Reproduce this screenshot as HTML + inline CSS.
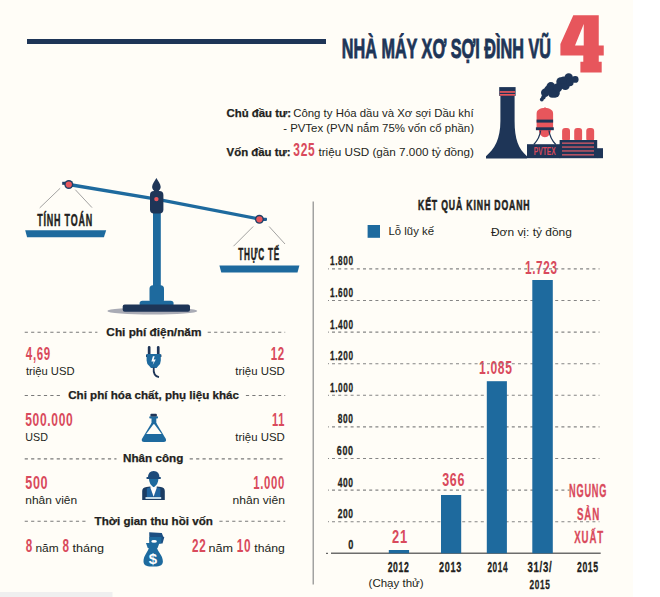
<!DOCTYPE html>
<html><head><meta charset="utf-8"><style>
html,body{margin:0;padding:0;background:#fffdf7;}
body{width:660px;height:597px;overflow:hidden;}
svg{display:block;}
svg text{font-family:"Liberation Sans",sans-serif;}
</style></head><body>
<svg width="660" height="597" viewBox="0 0 660 597">
<g id="gfx">
<rect x="633" y="0" width="27" height="597" fill="#ffffff"/>
<rect x="27" y="39" width="299" height="5" fill="#1e3557"/>
<path fill="#e7565c" fill-rule="evenodd" d="M573.3,15.2 L598.75,15.2 L598.75,45.4 L603.75,45.4 L603.75,55.4 L598.75,55.4 L598.75,61.8 L601.7,61.8 L601.7,72.6 L580.4,72.6 L580.4,61.8 L583.3,61.8 L583.3,55.4 L560.4,55.4 L560.4,44 Z M583.75,24 L583.75,45.4 L575,45.4 Z"/>
<circle cx="541.8" cy="99.5" r="1.9" fill="#1e3557"/>
<circle cx="543.4" cy="97.2" r="2.2" fill="#1e3557"/>
<circle cx="545.2" cy="92.7" r="4.2" fill="#1e3557"/>
<circle cx="550.9" cy="86.6" r="4.5" fill="#1e3557"/>
<circle cx="555.1" cy="93" r="4.7" fill="#1e3557"/>
<circle cx="560.8" cy="81.7" r="4.5" fill="#1e3557"/>
<circle cx="565.3" cy="85.5" r="4.5" fill="#1e3557"/>
<circle cx="568.7" cy="77.5" r="4.2" fill="#1e3557"/>
<circle cx="575.2" cy="79.4" r="3.4" fill="#1e3557"/>
<circle cx="557.7" cy="87.7" r="4.5" fill="#1e3557"/>
<circle cx="563.8" cy="80.2" r="3.8" fill="#1e3557"/>
<circle cx="569.8" cy="82.4" r="3.8" fill="#1e3557"/>
<circle cx="548.6" cy="90" r="4.5" fill="#1e3557"/>
<circle cx="552.4" cy="93.8" r="4" fill="#1e3557"/>
<path fill="#1e3557" d="M500.4,95 H514.6 V121 C514.6,139 518.5,149 527,156.2 V158.4 H486 V156.2 C494.5,149 500.4,139 500.4,121 Z"/>
<rect x="499.2" y="87.1" width="16.4" height="8.8" fill="#1e3557"/>
<rect x="499.7" y="91.1" width="15.4" height="1.7" fill="#e7565c"/>
<rect x="499.7" y="94.0" width="15.4" height="1.7" fill="#e7565c"/>
<rect x="562.1" y="127.9" width="7.9" height="13.5" rx="3" fill="#e7565c"/>
<rect x="574.2" y="127.9" width="7.9" height="13.5" rx="3" fill="#e7565c"/>
<rect x="586.25" y="127.9" width="7.9" height="13.5" rx="3" fill="#e7565c"/>
<path fill="#e7565c" d="M536.6,128 V113.5 C536.6,110 540,108.1 544.85,108.1 C549.7,108.1 553.1,110 553.1,113.5 V128 Z"/>
<rect x="544.2" y="107.4" width="1.6" height="2" fill="#e7565c"/>
<path fill="#e7565c" d="M538.8,129.5 A6.1,7.8 0 0 0 551,129.5 Z"/>
<rect x="536.6" y="119.6" width="16.5" height="3" fill="#1e3557"/>
<rect x="535.9" y="127.3" width="17.9" height="2.9" fill="#1e3557"/>
<path fill="none" stroke="#1e3557" stroke-width="1.3" d="M540.6,130.5 C540,136 537.5,140.5 533.8,144.5 M549,130.5 C549.6,136 552,140.5 555.8,144.5"/>
<rect x="527" y="144.2" width="33.2" height="14" fill="#1e3557"/>
<rect x="559.6" y="140" width="37.6" height="18.2" fill="#1e3557"/>
<rect x="597" y="148.2" width="6" height="10" fill="#1e3557"/>
<rect x="562" y="142.5" width="32" height="1.3" fill="#d85a66"/>
<rect x="562" y="146.4" width="32" height="1.3" fill="#d85a66"/>
<rect x="562" y="150.3" width="32" height="1.3" fill="#d85a66"/>
<rect x="562" y="154.2" width="32" height="1.3" fill="#d85a66"/>
<polyline fill="none" points="68.8,184.5 156.4,199.1 259.4,219" stroke="#1e6a9e" stroke-width="3.3"/>
<rect x="62.2" y="181.8" width="3" height="3" fill="#1d3f66"/>
<rect x="262.5" y="217.7" width="4.5" height="3.2" rx="0.8" fill="#1e5c92"/>
<circle cx="68.8" cy="184.5" r="4.5" fill="#1d3f66"/><circle cx="68.8" cy="184.5" r="3.1" fill="#e7565c"/>
<circle cx="259.4" cy="219.3" r="4.5" fill="#1d3f66"/><circle cx="259.4" cy="219.3" r="3.1" fill="#e7565c"/>
<path stroke="#8a8a8a" stroke-width="0.8" fill="none" d="M60.2,188.2 L39.7,207.9 M75.3,189.7 L92,207.6 M253.2,226.5 L233.5,246.2 M269.1,226.5 L285,244"/>
<polygon fill="#1e6a9e" points="25.2,230.2 106.2,230.2 103.9,237.3 27.1,237.3"/>
<polygon fill="#1e6a9e" points="219.4,265.6 299.4,265.6 297.5,272.4 221.3,272.4"/>
<rect x="153" y="212" width="7.8" height="76" fill="#1e6a9e"/>
<path fill="#1e3557" d="M156.4,177.9 C158,181 160.7,183.5 160.7,187 C160.7,189 159.2,190.2 158.3,191.5 H154.5 C153.6,190.2 152.1,189 152.1,187 C152.1,183.5 154.8,181 156.4,177.9 Z"/>
<rect x="150" y="191" width="13.4" height="22.6" rx="4" fill="#1e3557"/>
<circle cx="156.4" cy="199.1" r="2.2" fill="#e7565c"/>
<ellipse cx="152.3" cy="311" rx="45" ry="3.6" fill="#a9abb5"/>
<rect x="149.5" y="285.3" width="14.5" height="18" rx="3.5" fill="#1e6a9e"/>
<rect x="139.6" y="300.8" width="34" height="6" rx="2.8" fill="#1e6a9e"/>
<rect x="122.7" y="304.5" width="67.3" height="7.3" rx="2" fill="#1e3557"/>
<line x1="24.7" y1="332.3" x2="97.4" y2="332.3" stroke="#7a7a7a" stroke-width="1.1" stroke-dasharray="3.2 3.2"/>
<line x1="207.7" y1="332.3" x2="285.2" y2="332.3" stroke="#7a7a7a" stroke-width="1.1" stroke-dasharray="3.2 3.2"/>
<line x1="24.7" y1="395.5" x2="60.3" y2="395.5" stroke="#7a7a7a" stroke-width="1.1" stroke-dasharray="3.2 3.2"/>
<line x1="245.9" y1="395.5" x2="285.2" y2="395.5" stroke="#7a7a7a" stroke-width="1.1" stroke-dasharray="3.2 3.2"/>
<line x1="24.7" y1="458.9" x2="116.5" y2="458.9" stroke="#7a7a7a" stroke-width="1.1" stroke-dasharray="3.2 3.2"/>
<line x1="189.7" y1="458.9" x2="285.2" y2="458.9" stroke="#7a7a7a" stroke-width="1.1" stroke-dasharray="3.2 3.2"/>
<line x1="24.7" y1="521.2" x2="85.8" y2="521.2" stroke="#7a7a7a" stroke-width="1.1" stroke-dasharray="3.2 3.2"/>
<line x1="219.4" y1="521.2" x2="285.2" y2="521.2" stroke="#7a7a7a" stroke-width="1.1" stroke-dasharray="3.2 3.2"/>
<rect x="147.8" y="346.1" width="2.7" height="9" rx="1.3" fill="#1e3557"/>
<rect x="156.9" y="346.1" width="2.7" height="9" rx="1.3" fill="#1e3557"/>
<rect x="146" y="354.6" width="15.4" height="2.4" fill="#1e3557"/>
<path fill="#1e6a9e" d="M146.6,353.9 H160.8 V360.5 Q160.8,363.8 158.2,366 L156.6,368.1 H151 L149.3,366 Q146.6,363.8 146.6,360.5 Z"/>
<path fill="none" stroke="#1e3557" stroke-width="1.8" d="M153.7,367.5 C153.2,373 154.8,376.4 159,377.2"/>
<path fill="#fff" d="M152.9,356.3 L151.4,361.6 L153.7,361.6 L152.7,365 L155.8,359.6 L153.6,359.6 L154.7,356.3 Z"/>
<path fill="#1e6a9e" d="M151.5,423 L141.9,439 Q141.1,441.9 144.2,441.9 H163.6 Q166.7,441.9 165.9,439 L156.3,423 Z"/>
<rect x="151.5" y="417" width="4.8" height="7" fill="#1e6a9e"/>
<rect x="149.3" y="416.3" width="8.7" height="2.3" rx="0.8" fill="#1e6a9e"/>
<rect x="150.4" y="413.7" width="6.5" height="2.8" rx="1" fill="#1e3557"/>
<polygon fill="#fffdf7" points="153.4,424.2 154.4,424.2 161.7,434 146.2,434"/>
<path fill="#1c4a7a" d="M147.9,478 Q147.9,471 153.7,471 Q159.5,471 159.5,478 Z"/>
<rect x="146.3" y="477" width="14.7" height="2.1" rx="1" fill="#1c4a7a"/>
<path fill="#1e6a9e" d="M149,479 H158.4 Q158.4,484 153.7,487.4 Q149,484 149,479 Z"/>
<path fill="#1b3c63" d="M142.2,500 V491 Q142.2,487.6 146.5,487 L150.2,486.6 L153.6,490 L157,486.6 L160.9,487 Q164.8,487.6 164.8,491 V500 Z"/>
<polygon fill="#1f64a0" points="146.8,488.6 150.2,487.3 153.6,496.7 146.8,497.2"/>
<polygon fill="#1f64a0" points="160.4,488.6 157,487.3 153.6,496.7 160.4,497.2"/>
<polygon fill="#fff" points="150.2,487.2 157,487.2 153.6,496.7"/>
<rect x="145.5" y="497.1" width="15.7" height="1.8" fill="#d8ebf5"/>
<polygon fill="#1d4f82" points="149.2,532.2 161.8,532.9 163.2,536.5 164.3,537.2 162.5,543.5 149.5,543.5"/>
<polygon fill="#1e6a9e" points="149.4,537 161.5,537 161.1,543.5 149.5,543.5"/>
<ellipse cx="154.1" cy="541.4" rx="2.8" ry="1.4" fill="#fff"/>
<polygon fill="#1e6a9e" points="146,543.1 159.4,543.1 157.6,548 147.7,548"/>
<path fill="#1e6a9e" d="M148.8,547.5 H157 C157,551 162.9,555 162.9,561.5 C162.9,566.4 158,566.5 153,566.5 C148.3,566.5 143.5,566.4 143.5,561.5 C143.5,555 148.8,551 148.8,547.5 Z"/>
<text x="152.9" y="564.2" font-family="Liberation Sans" font-weight="700" font-size="15" fill="#fff" text-anchor="middle">$</text>
<rect x="312.6" y="201.5" width="1.2" height="383" fill="#8c8c8c"/>
<rect x="367.6" y="225" width="12.4" height="12.8" fill="#1e6a9e"/>
<rect x="326" y="552.8" width="2" height="1.1" fill="#555"/>
<rect x="331" y="552.6" width="269.7" height="1.2" fill="#4a4a4a"/>
<rect x="0" y="592" width="112.5" height="5" fill="#efefef"/>
</g>
<g id="txt">
<text id="title" x="341.78" y="58.30" font-size="27.60" font-weight="700" fill="#1e3557" stroke="#1e3557" stroke-width="0.9" textLength="209.22" lengthAdjust="spacingAndGlyphs">NHÀ MÁY XƠ SỢI ĐÌNH VŨ</text>
<text id="i1a" x="226.56" y="116.59" font-size="11.07" font-weight="700" fill="#231f20" stroke="#231f20" stroke-width="0.25" textLength="64.48" lengthAdjust="spacingAndGlyphs">Chủ đầu tư:</text>
<text id="i1b" x="293.20" y="116.70" font-size="11.40" font-weight="400" fill="#231f20" textLength="180.40" lengthAdjust="spacingAndGlyphs">Công ty Hóa dầu và Xơ sợi Dầu khí</text>
<text id="i2" x="283.20" y="131.50" font-size="11.40" font-weight="400" fill="#231f20" textLength="190.80" lengthAdjust="spacingAndGlyphs">- PVTex (PVN nắm 75% vốn cổ phần)</text>
<text id="i3a" x="226.57" y="155.69" font-size="11.07" font-weight="700" fill="#231f20" stroke="#231f20" stroke-width="0.25" textLength="64.06" lengthAdjust="spacingAndGlyphs">Vốn đầu tư:</text>
<text id="i3b" x="293.35" y="156.00" font-size="17.88" font-weight="700" fill="#d94a5c" letter-spacing="1.0" textLength="21.99" lengthAdjust="spacingAndGlyphs">325</text>
<text id="i3c" x="318.40" y="155.80" font-size="11.40" font-weight="400" fill="#231f20" textLength="155.60" lengthAdjust="spacingAndGlyphs">triệu USD (gần 7.000 tỷ đồng)</text>
<text id="tt" x="37.17" y="225.78" font-size="16.35" font-weight="700" fill="#231f20" letter-spacing="1.5" stroke="#231f20" stroke-width="0.5" textLength="55.83" lengthAdjust="spacingAndGlyphs">TÍNH TOÁN</text>
<text id="tte" x="238.32" y="260.47" font-size="16.21" font-weight="700" fill="#231f20" letter-spacing="1.5" stroke="#231f20" stroke-width="0.5" textLength="41.68" lengthAdjust="spacingAndGlyphs">THỰC TẾ</text>
<text id="h1" x="106.37" y="335.59" font-size="11.07" font-weight="700" fill="#231f20" stroke="#231f20" stroke-width="0.25" textLength="95.06" lengthAdjust="spacingAndGlyphs">Chi phí điện/năm</text>
<text id="v1l" x="25.87" y="359.70" font-size="18.46" font-weight="700" fill="#d94a5c" letter-spacing="1.0" textLength="24.87" lengthAdjust="spacingAndGlyphs">4,69</text>
<text id="u1l" x="25.89" y="374.70" font-size="11.50" font-weight="400" fill="#231f20" textLength="48.75" lengthAdjust="spacingAndGlyphs">triệu USD</text>
<text id="v1r" x="270.83" y="359.70" font-size="18.46" font-weight="700" fill="#d94a5c" letter-spacing="1.0" textLength="14.09" lengthAdjust="spacingAndGlyphs">12</text>
<text id="u1r" x="235.36" y="374.70" font-size="11.50" font-weight="400" fill="#231f20" textLength="49.48" lengthAdjust="spacingAndGlyphs">triệu USD</text>
<text id="h2" x="68.20" y="398.99" font-size="11.07" font-weight="700" fill="#231f20" stroke="#231f20" stroke-width="0.25" textLength="170.84" lengthAdjust="spacingAndGlyphs">Chi phí hóa chất, phụ liệu khác</text>
<text id="v2l" x="25.24" y="425.60" font-size="18.31" font-weight="700" fill="#d94a5c" letter-spacing="1.0" textLength="48.24" lengthAdjust="spacingAndGlyphs">500.000</text>
<text id="u2l" x="25.28" y="441.10" font-size="11.50" font-weight="400" fill="#231f20" textLength="22.61" lengthAdjust="spacingAndGlyphs">USD</text>
<text id="v2r" x="272.00" y="425.60" font-size="18.31" font-weight="700" fill="#d94a5c" letter-spacing="1.0" textLength="12.88" lengthAdjust="spacingAndGlyphs">11</text>
<text id="u2r" x="235.36" y="441.10" font-size="11.50" font-weight="400" fill="#231f20" textLength="49.48" lengthAdjust="spacingAndGlyphs">triệu USD</text>
<text id="h3" x="122.99" y="462.19" font-size="11.07" font-weight="700" fill="#231f20" stroke="#231f20" stroke-width="0.25" textLength="60.29" lengthAdjust="spacingAndGlyphs">Nhân công</text>
<text id="v3l" x="25.23" y="488.80" font-size="18.31" font-weight="700" fill="#d94a5c" letter-spacing="1.0" textLength="23.07" lengthAdjust="spacingAndGlyphs">500</text>
<text id="u3l" x="25.30" y="504.10" font-size="11.50" font-weight="400" fill="#231f20" textLength="51.86" lengthAdjust="spacingAndGlyphs">nhân viên</text>
<text id="v3r" x="253.27" y="488.80" font-size="18.31" font-weight="700" fill="#d94a5c" letter-spacing="1.0" textLength="31.56" lengthAdjust="spacingAndGlyphs">1.000</text>
<text id="u3r" x="232.56" y="504.10" font-size="11.50" font-weight="400" fill="#231f20" textLength="52.33" lengthAdjust="spacingAndGlyphs">nhân viên</text>
<text id="h4" x="94.59" y="525.19" font-size="11.07" font-weight="700" fill="#231f20" stroke="#231f20" stroke-width="0.25" textLength="118.21" lengthAdjust="spacingAndGlyphs">Thời gian thu hồi vốn</text>
<text id="v4a" x="25.82" y="551.50" font-size="18.46" font-weight="700" fill="#d94a5c" letter-spacing="1.0" textLength="7.11" lengthAdjust="spacingAndGlyphs">8</text>
<text id="u4a" x="35.42" y="551.50" font-size="11.50" font-weight="400" fill="#231f20" textLength="23.18" lengthAdjust="spacingAndGlyphs">năm</text>
<text id="v4b" x="62.51" y="551.50" font-size="18.46" font-weight="700" fill="#d94a5c" letter-spacing="1.0" textLength="7.15" lengthAdjust="spacingAndGlyphs">8</text>
<text id="u4b" x="72.46" y="551.50" font-size="11.50" font-weight="400" fill="#231f20" textLength="31.64" lengthAdjust="spacingAndGlyphs">tháng</text>
<text id="v4c" x="192.10" y="551.50" font-size="18.46" font-weight="700" fill="#d94a5c" letter-spacing="1.0" textLength="14.26" lengthAdjust="spacingAndGlyphs">22</text>
<text id="u4c" x="208.46" y="551.50" font-size="11.50" font-weight="400" fill="#231f20" textLength="24.46" lengthAdjust="spacingAndGlyphs">năm</text>
<text id="v4d" x="236.87" y="551.50" font-size="18.46" font-weight="700" fill="#d94a5c" letter-spacing="1.0" textLength="14.45" lengthAdjust="spacingAndGlyphs">10</text>
<text id="u4d" x="254.34" y="551.50" font-size="11.50" font-weight="400" fill="#231f20" textLength="30.51" lengthAdjust="spacingAndGlyphs">tháng</text>
<text id="ct" x="418.00" y="209.73" font-size="15.35" font-weight="700" fill="#231f20" letter-spacing="1.5" stroke="#231f20" stroke-width="0.6" textLength="112.43" lengthAdjust="spacingAndGlyphs">KẾT QUẢ KINH DOANH</text>
<text id="lg1" x="388.57" y="234.50" font-size="11.40" font-weight="400" fill="#231f20" textLength="45.43" lengthAdjust="spacingAndGlyphs">Lỗ lũy kế</text>
<text id="lg2" x="491.00" y="235.60" font-size="11.40" font-weight="400" fill="#231f20" textLength="80.80" lengthAdjust="spacingAndGlyphs">Đơn vị: tỷ đồng</text>
<text id="y9" x="330.00" y="265.36" font-size="13.27" font-weight="700" fill="#231f20" letter-spacing="1.0" stroke="#231f20" stroke-width="0.3" textLength="23.70" lengthAdjust="spacingAndGlyphs">1.800</text>
<text id="y8" x="330.00" y="296.96" font-size="13.27" font-weight="700" fill="#231f20" letter-spacing="1.0" stroke="#231f20" stroke-width="0.3" textLength="23.70" lengthAdjust="spacingAndGlyphs">1.600</text>
<text id="y7" x="330.00" y="328.56" font-size="13.27" font-weight="700" fill="#231f20" letter-spacing="1.0" stroke="#231f20" stroke-width="0.3" textLength="23.70" lengthAdjust="spacingAndGlyphs">1.400</text>
<text id="y6" x="330.00" y="360.16" font-size="13.27" font-weight="700" fill="#231f20" letter-spacing="1.0" stroke="#231f20" stroke-width="0.3" textLength="23.70" lengthAdjust="spacingAndGlyphs">1.200</text>
<text id="y5" x="330.00" y="391.76" font-size="13.27" font-weight="700" fill="#231f20" letter-spacing="1.0" stroke="#231f20" stroke-width="0.3" textLength="23.70" lengthAdjust="spacingAndGlyphs">1.000</text>
<text id="y4" x="337.76" y="423.37" font-size="13.27" font-weight="700" fill="#231f20" letter-spacing="1.0" stroke="#231f20" stroke-width="0.3" textLength="15.92" lengthAdjust="spacingAndGlyphs">800</text>
<text id="y3" x="336.74" y="454.96" font-size="13.27" font-weight="700" fill="#231f20" letter-spacing="1.0" stroke="#231f20" stroke-width="0.3" textLength="16.98" lengthAdjust="spacingAndGlyphs">600</text>
<text id="y2" x="337.70" y="486.56" font-size="13.27" font-weight="700" fill="#231f20" letter-spacing="1.0" stroke="#231f20" stroke-width="0.3" textLength="16.02" lengthAdjust="spacingAndGlyphs">400</text>
<text id="y1" x="337.70" y="518.16" font-size="13.27" font-weight="700" fill="#231f20" letter-spacing="1.0" stroke="#231f20" stroke-width="0.3" textLength="16.02" lengthAdjust="spacingAndGlyphs">200</text>
<text id="y0" x="348.29" y="548.97" font-size="13.27" font-weight="700" fill="#231f20" letter-spacing="1.0" stroke="#231f20" stroke-width="0.3" textLength="5.82" lengthAdjust="spacingAndGlyphs">0</text>
<text id="b21" x="392.03" y="543.00" font-size="18.60" font-weight="700" fill="#d94a5c" letter-spacing="1.0" textLength="15.72" lengthAdjust="spacingAndGlyphs">21</text>
<text id="b366" x="442.14" y="485.80" font-size="18.17" font-weight="700" fill="#d94a5c" letter-spacing="1.0" textLength="22.92" lengthAdjust="spacingAndGlyphs">366</text>
<text id="b1085" x="479.07" y="374.40" font-size="18.60" font-weight="700" fill="#d94a5c" letter-spacing="1.0" textLength="33.46" lengthAdjust="spacingAndGlyphs">1.085</text>
<text id="b1723" x="525.00" y="274.20" font-size="18.31" font-weight="700" fill="#d94a5c" letter-spacing="1.0" textLength="32.68" lengthAdjust="spacingAndGlyphs">1.723</text>
<text id="ng1" x="569.11" y="497.17" font-size="18.07" font-weight="700" fill="#d94a5c" letter-spacing="1.5" stroke="#d94a5c" stroke-width="0.3" textLength="38.01" lengthAdjust="spacingAndGlyphs">NGUNG</text>
<text id="ng2" x="577.00" y="519.66" font-size="17.05" font-weight="700" fill="#d94a5c" letter-spacing="1.5" stroke="#d94a5c" stroke-width="0.3" textLength="23.19" lengthAdjust="spacingAndGlyphs">SẢN</text>
<text id="ng3" x="574.28" y="542.66" font-size="17.05" font-weight="700" fill="#d94a5c" letter-spacing="1.5" stroke="#d94a5c" stroke-width="0.3" textLength="29.73" lengthAdjust="spacingAndGlyphs">XUẤT</text>
<text id="x12" x="387.64" y="572.47" font-size="13.85" font-weight="700" fill="#231f20" letter-spacing="1.0" stroke="#231f20" stroke-width="0.3" textLength="21.87" lengthAdjust="spacingAndGlyphs">2012</text>
<text id="x13" x="439.10" y="572.47" font-size="13.85" font-weight="700" fill="#231f20" letter-spacing="1.0" stroke="#231f20" stroke-width="0.3" textLength="22.79" lengthAdjust="spacingAndGlyphs">2013</text>
<text id="x14" x="487.43" y="572.47" font-size="13.85" font-weight="700" fill="#231f20" letter-spacing="1.0" stroke="#231f20" stroke-width="0.3" textLength="20.63" lengthAdjust="spacingAndGlyphs">2014</text>
<text id="x15a" x="527.47" y="572.47" font-size="13.85" font-weight="700" fill="#231f20" letter-spacing="1.0" stroke="#231f20" stroke-width="0.3" textLength="24.84" lengthAdjust="spacingAndGlyphs">31/3/</text>
<text id="x15b" x="529.48" y="588.76" font-size="13.42" font-weight="700" fill="#231f20" letter-spacing="1.0" stroke="#231f20" stroke-width="0.3" textLength="20.91" lengthAdjust="spacingAndGlyphs">2015</text>
<text id="x15c" x="577.00" y="572.47" font-size="13.85" font-weight="700" fill="#231f20" letter-spacing="1.0" stroke="#231f20" stroke-width="0.3" textLength="21.74" lengthAdjust="spacingAndGlyphs">2015</text>
<text id="cth" x="368.56" y="586.60" font-size="11.80" font-weight="400" fill="#231f20" textLength="55.04" lengthAdjust="spacingAndGlyphs">(Chạy thử)</text>
<text id="pvtex" x="533.82" y="155.30" font-size="11.05" font-weight="700" fill="#d94a5c" textLength="21.91" lengthAdjust="spacingAndGlyphs">PVTEX</text>
</g>
<g id="gfx2">
<line x1="332" y1="521.70" x2="599.5" y2="521.70" stroke="#858585" stroke-width="1.1" stroke-dasharray="3 3.2"/>
<rect x="328" y="521.20" width="1" height="1" fill="#858585"/>
<line x1="332" y1="490.10" x2="569.5" y2="490.10" stroke="#858585" stroke-width="1.1" stroke-dasharray="3 3.2"/>
<rect x="328" y="489.60" width="1" height="1" fill="#858585"/>
<line x1="332" y1="458.50" x2="599.5" y2="458.50" stroke="#858585" stroke-width="1.1" stroke-dasharray="3 3.2"/>
<rect x="328" y="458.00" width="1" height="1" fill="#858585"/>
<line x1="332" y1="426.90" x2="599.5" y2="426.90" stroke="#858585" stroke-width="1.1" stroke-dasharray="3 3.2"/>
<rect x="328" y="426.40" width="1" height="1" fill="#858585"/>
<line x1="332" y1="395.30" x2="599.5" y2="395.30" stroke="#858585" stroke-width="1.1" stroke-dasharray="3 3.2"/>
<rect x="328" y="394.80" width="1" height="1" fill="#858585"/>
<line x1="332" y1="363.70" x2="599.5" y2="363.70" stroke="#858585" stroke-width="1.1" stroke-dasharray="3 3.2"/>
<rect x="328" y="363.20" width="1" height="1" fill="#858585"/>
<line x1="332" y1="332.10" x2="599.5" y2="332.10" stroke="#858585" stroke-width="1.1" stroke-dasharray="3 3.2"/>
<rect x="328" y="331.60" width="1" height="1" fill="#858585"/>
<line x1="332" y1="300.50" x2="599.5" y2="300.50" stroke="#858585" stroke-width="1.1" stroke-dasharray="3 3.2"/>
<rect x="328" y="300.00" width="1" height="1" fill="#858585"/>
<line x1="332" y1="268.90" x2="599.5" y2="268.90" stroke="#858585" stroke-width="1.1" stroke-dasharray="3 3.2"/>
<rect x="328" y="268.40" width="1" height="1" fill="#858585"/>
<rect x="388.8" y="550.00" width="20.30" height="3.30" fill="#1e6a9e"/>
<rect x="441" y="495.00" width="20.20" height="58.30" fill="#1e6a9e"/>
<rect x="486.8" y="381.20" width="20.10" height="172.10" fill="#1e6a9e"/>
<rect x="532.3" y="280.00" width="20.50" height="273.30" fill="#1e6a9e"/>
</g>
</svg>
</body></html>
